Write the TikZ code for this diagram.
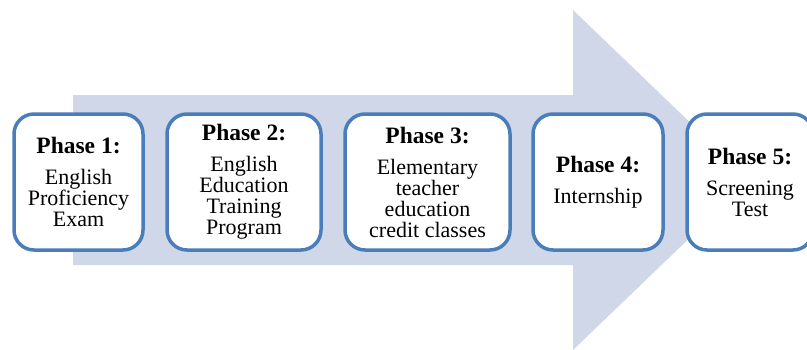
\documentclass[tikz,border=0pt]{standalone}
\usepackage{fontspec}
\setmainfont{Liberation Serif}
\usepackage{tikz}
\usetikzlibrary{positioning}
\usepackage{xcolor}
\definecolor{boxblue}{RGB}{74,126,187}
\definecolor{arrowfill}{RGB}{207,215,232}

\tikzset{
  phasebox/.style={draw=boxblue, line width=3.5pt, fill=white, rounded corners=20pt,
    minimum height=136pt, align=center, inner sep=0pt,
    font=\fontsize{22}{21}\selectfont},
}
\newcommand{\phasetitle}[1]{{\fontsize{23.5}{21}\selectfont\bfseries #1}\\[10pt]}

\begin{document}
\begin{tikzpicture}[x=1pt, y=-1pt]
    \useasboundingbox (0,0) rectangle (807,349);
    \clip (0,0) rectangle (807,349);

    % big background arrow
    \fill[arrowfill] (73,95) -- (573,95) -- (573,10) -- (750,180) -- (573,350)
        -- (573,265) -- (73,265) -- cycle;

    % the five phases
    \node[phasebox, minimum width=129pt] (p1) at (78.5,182)
        {\phasetitle{Phase 1:}English\\Proficiency\\Exam};
    \node[phasebox, minimum width=154pt] (p2) at (244,182)
        {\phasetitle{Phase 2:}English\\Education\\Training\\Program};
    \node[phasebox, minimum width=165pt] (p3) at (427.5,182)
        {\phasetitle{Phase 3:}Elementary\\teacher\\education\\credit classes};
    \node[phasebox, minimum width=130pt] (p4) at (598,182)
        {\phasetitle{Phase 4:}Internship};
    \node[phasebox, minimum width=126pt] (p5) at (750,182)
        {\phasetitle{Phase 5:}Screening\\Test};
\end{tikzpicture}
\end{document}
